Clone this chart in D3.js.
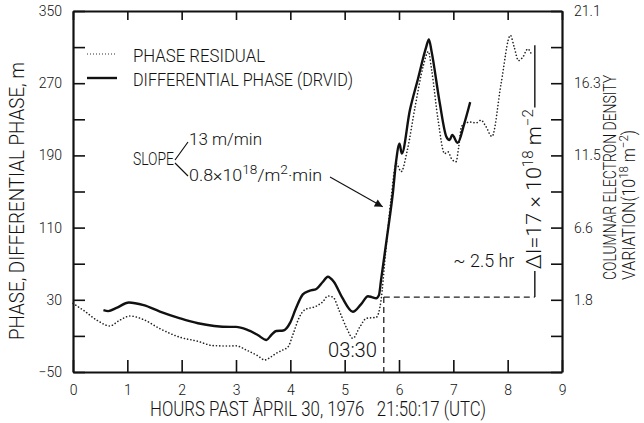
<!DOCTYPE html>
<html>
<head>
<meta charset="utf-8">
<script src="https://cdn.jsdelivr.net/npm/d3@7"></script>
<style>
  body { margin: 0; background: #fff; }
  svg text { font-family: Roboto, "DejaVu Sans Condensed", sans-serif; font-weight: 300; fill: #111; }
</style>
</head>
<body>
<svg id="chart" width="644" height="423"></svg>
<script>
// hours past 21:50:17 UTC, phase in m
const drvidHours = [0.56, 0.65, 0.8, 1.03, 1.3, 1.6, 1.97, 2.3, 2.6, 2.9, 3.0, 3.2, 3.4, 3.56, 3.65, 3.74, 3.87, 4.0, 4.1, 4.23, 4.35, 4.48, 4.6, 4.69, 4.8, 4.95, 5.15, 5.3, 5.43, 5.5, 5.58, 5.63, 5.67, 5.78, 5.89, 5.95, 6.01, 6.05, 6.2, 6.35, 6.5, 6.55, 6.6, 6.75, 6.87, 6.93, 6.98, 7.08, 7.2, 7.31];
const drvidPhase = [18.5, 17.5, 21, 27, 24, 17, 9.5, 4, 1, 0, 0, -3, -9, -14.5, -9, -4.6, -4, 5, 20, 36, 40, 42, 50, 55.6, 50, 33, 16.8, 25, 34, 33, 31.7, 35, 52, 100, 150, 185, 203, 192, 240, 275, 310, 318.6, 305, 248, 211, 207, 212.6, 204, 225, 249];

const residualHours = [0, 0.2, 0.45, 0.68, 0.85, 1.05, 1.3, 1.6, 1.97, 2.3, 2.58, 2.89, 3.0, 3.2, 3.4, 3.53, 3.65, 3.74, 3.85, 3.96, 4.05, 4.17, 4.26, 4.48, 4.6, 4.69, 4.79, 4.9, 5.05, 5.15, 5.28, 5.4, 5.58, 5.67, 5.75, 5.85, 5.95, 6.04, 6.15, 6.3, 6.45, 6.54, 6.6, 6.72, 6.84, 6.9, 6.97, 7.05, 7.1, 7.15, 7.24, 7.3, 7.42, 7.51, 7.6, 7.71, 7.88, 8.05, 8.12, 8.2, 8.28, 8.37, 8.43];
const residualPhase = [26, 18, 7, 1, 7, 12, 8, -2, -11.5, -16, -20.8, -21.2, -21, -26, -32, -36.7, -33, -29.3, -26, -22, -8, 11.3, 18.7, 23, 28, 34.2, 32.7, 18, -3, -12.7, 0, 9.5, 10.6, 29.8, 80, 140, 181, 172, 195, 245, 290, 305, 285, 229, 192, 194, 186, 183, 200, 222, 226, 227, 226, 229, 222, 211, 270, 323, 310, 295, 299, 308, 303];

const hourTicks = [0, 1, 2, 3, 4, 5, 6, 7, 8, 9];
const phaseTicks = [-50, -10, 30, 70, 110, 150, 190, 230, 270, 310, 350];
const phaseLabels = [-50, 30, 110, 190, 270, 350];
const densityLabels = [1.8, 6.6, 11.5, 16.3, 21.1];

// onset of the storm and its rise
const onsetHour = 5.72, onsetPhase = 33;
const deltaHour = 8.5, deltaTop = 312, gapLow = 62, gapHigh = 243;

const svg = d3.select("#chart");
const margin = {left: 73, right: 82, top: 11, bottom: 51};
const width = 644, height = 423;

const x = d3.scaleLinear().domain([0, 9]).range([margin.left, width - margin.right]);
const y = d3.scaleLinear().domain([-50, 350]).range([height - margin.bottom, margin.top]);
// right axis: 30 m -> 1.8, 350 m -> 21.1
const yR = d3.scaleLinear().domain([1.8 - 80 * 19.3 / 320, 21.1]).range(y.range());

/** Axes
------------------------------------------------------------*/

const fmtPhase = d => phaseLabels.includes(d) ? (d < 0 ? "\u2212" + Math.abs(d) : d) : "";

svg.append("g")
  .attr("transform", `translate(${margin.left},0)`)
  .call(d3.axisLeft(y).tickValues(phaseTicks).tickFormat(fmtPhase).tickSize(-12).tickSizeOuter(0).tickPadding(11))
  .call(g => g.selectAll("text").attr("font-size", 14));

svg.append("g")
  .attr("transform", `translate(${width - margin.right},0)`)
  .call(d3.axisRight(y).tickValues(phaseTicks).tickFormat("").tickSize(-11).tickSizeOuter(0));

svg.append("g")
  .attr("transform", `translate(${width - margin.right},0)`)
  .call(d3.axisRight(yR).tickValues(densityLabels).tickFormat(d3.format(".1f")).tickSize(0).tickPadding(12))
  .call(g => g.select(".domain").remove())
  .call(g => g.selectAll("text").attr("font-size", 14));

svg.append("g")
  .attr("transform", `translate(0,${height - margin.bottom})`)
  .call(d3.axisBottom(x).tickValues(hourTicks).tickFormat(d3.format("d")).tickSize(-12).tickSizeOuter(0).tickPadding(13))
  .call(g => g.selectAll("text").attr("font-size", 14));

svg.append("g")
  .attr("transform", `translate(0,${margin.top})`)
  .call(d3.axisTop(x).tickValues(hourTicks).tickFormat("").tickSize(-9).tickSizeOuter(0));

svg.selectAll(".domain").attr("stroke", "#111").attr("stroke-width", 2.2);
svg.selectAll(".tick line").attr("stroke", "#111").attr("stroke-width", 1.6);

/** Curves
------------------------------------------------------------*/

const line = d3.line()
  .x(d => x(d[0]))
  .y(d => y(d[1]))
  .curve(d3.curveMonotoneX);

svg.append("path")
  .datum(d3.zip(residualHours, residualPhase))
  .attr("d", line)
  .attr("fill", "none")
  .attr("stroke", "#222")
  .attr("stroke-width", 1.6)
  .attr("stroke-linecap", "round")
  .attr("stroke-dasharray", "0.1,3.2");

svg.append("path")
  .datum(d3.zip(drvidHours, drvidPhase))
  .attr("d", line)
  .attr("fill", "none")
  .attr("stroke", "#111")
  .attr("stroke-width", 2.4);

/** Annotations
------------------------------------------------------------*/

const dash = svg.append("g").attr("stroke", "#222").attr("stroke-width", 1.3).attr("stroke-dasharray", "6,4");
dash.append("line")
  .attr("x1", x(onsetHour)).attr("x2", x(deltaHour))
  .attr("y1", y(onsetPhase)).attr("y2", y(onsetPhase));
dash.append("line")
  .attr("x1", x(onsetHour)).attr("x2", x(onsetHour))
  .attr("y1", y(onsetPhase)).attr("y2", y(-50));

const solid = svg.append("g").attr("stroke", "#111").attr("stroke-width", 1.4);
solid.append("line")
  .attr("x1", x(deltaHour)).attr("x2", x(deltaHour))
  .attr("y1", y(onsetPhase)).attr("y2", y(gapLow));
solid.append("line")
  .attr("x1", x(deltaHour)).attr("x2", x(deltaHour))
  .attr("y1", y(gapHigh)).attr("y2", y(deltaTop));

svg.append("text")
  .attr("transform", `translate(${x(deltaHour) + 6},${y((gapLow + gapHigh) / 2)}) rotate(-90)`)
  .attr("text-anchor", "middle")
  .attr("font-size", 20)
  .attr("textLength", 160).attr("lengthAdjust", "spacingAndGlyphs")
  .call(t => {
    t.append("tspan").text("\u0394I=17 \u00d7 10");
    t.append("tspan").attr("font-size", 14).attr("dy", -8).text("18");
    t.append("tspan").attr("dy", 8).text(" m");
    t.append("tspan").attr("font-size", 14).attr("dy", -8).text("\u22122");
  });

svg.append("text")
  .attr("x", x(7.0)).attr("y", y(66))
  .attr("font-size", 19)
  .attr("textLength", 61).attr("lengthAdjust", "spacingAndGlyphs")
  .text("~ 2.5 hr");

svg.append("text")
  .attr("x", 328).attr("y", 357)
  .attr("font-size", 20)
  .attr("textLength", 49).attr("lengthAdjust", "spacingAndGlyphs")
  .text("03:30");

// legend
const legend = svg.append("g");
legend.append("line")
  .attr("x1", 87).attr("x2", 117).attr("y1", 54).attr("y2", 54)
  .attr("stroke", "#333").attr("stroke-width", 1.2).attr("stroke-dasharray", "1,2");
legend.append("line")
  .attr("x1", 87).attr("x2", 117).attr("y1", 78).attr("y2", 78)
  .attr("stroke", "#111").attr("stroke-width", 2.4);
legend.append("text")
  .attr("x", 133).attr("y", 62).attr("font-size", 19)
  .attr("textLength", 132).attr("lengthAdjust", "spacingAndGlyphs")
  .text("PHASE RESIDUAL");
legend.append("text")
  .attr("x", 133).attr("y", 86).attr("font-size", 19)
  .attr("textLength", 220).attr("lengthAdjust", "spacingAndGlyphs")
  .text("DIFFERENTIAL PHASE (DRVID)");

// slope note
const slope = svg.append("g");
slope.append("text")
  .attr("x", 133).attr("y", 165).attr("font-size", 19)
  .attr("textLength", 41).attr("lengthAdjust", "spacingAndGlyphs")
  .text("SLOPE");
slope.append("path")
  .attr("d", "M188,142 L175,160 M175,163 L188,176")
  .attr("fill", "none").attr("stroke", "#111").attr("stroke-width", 1.2);
slope.append("text")
  .attr("x", 189).attr("y", 145).attr("font-size", 17)
  .attr("textLength", 73).attr("lengthAdjust", "spacingAndGlyphs")
  .text("13 m/min");
slope.append("text")
  .attr("x", 189).attr("y", 181).attr("font-size", 17)
  .attr("textLength", 133).attr("lengthAdjust", "spacingAndGlyphs")
  .call(t => {
    t.append("tspan").text("0.8\u00d710");
    t.append("tspan").attr("font-size", 13).attr("dy", -7).text("18");
    t.append("tspan").attr("dy", 7).text("/m");
    t.append("tspan").attr("font-size", 13).attr("dy", -7).text("2");
    t.append("tspan").attr("dy", 7).text("\u00b7min");
  });

svg.append("defs").append("marker")
  .attr("id", "arrow")
  .attr("viewBox", "0 0 10 10")
  .attr("refX", 10).attr("refY", 5)
  .attr("markerWidth", 10).attr("markerHeight", 8)
  .attr("markerUnits", "userSpaceOnUse")
  .attr("orient", "auto")
  .append("path").attr("d", "M0,0 L10,5 L0,10 Z").attr("fill", "#111");

svg.append("line")
  .attr("x1", 330).attr("y1", 177)
  .attr("x2", x(5.7)).attr("y2", y(133))
  .attr("stroke", "#111").attr("stroke-width", 1.1)
  .attr("marker-end", "url(#arrow)");

/** Axis titles
------------------------------------------------------------*/

svg.append("text")
  .attr("x", 150).attr("y", 416).attr("font-size", 20)
  .attr("textLength", 336).attr("lengthAdjust", "spacingAndGlyphs")
  .text("HOURS PAST \u00c5PRIL 30, 1976 \u00a0 21:50:17 (UTC)");

svg.append("text")
  .attr("transform", "translate(24,201) rotate(-90)")
  .attr("text-anchor", "middle").attr("font-size", 20)
  .attr("textLength", 278).attr("lengthAdjust", "spacingAndGlyphs")
  .text("PHASE, DIFFERENTIAL PHASE, m");

svg.append("text")
  .attr("transform", "translate(616,280) rotate(-90)")
  .attr("font-size", 18)
  .attr("textLength", 205).attr("lengthAdjust", "spacingAndGlyphs")
  .text("COLUMNAR ELECTRON DENSITY");

svg.append("text")
  .attr("transform", "translate(635,280) rotate(-90)")
  .attr("font-size", 18)
  .attr("textLength", 150).attr("lengthAdjust", "spacingAndGlyphs")
  .call(t => {
    t.append("tspan").text("VARIATION(10");
    t.append("tspan").attr("font-size", 13).attr("dy", -7).text("18");
    t.append("tspan").attr("dy", 7).text(" m");
    t.append("tspan").attr("font-size", 13).attr("dy", -7).text("\u22122");
    t.append("tspan").attr("dy", 7).text(")");
  });
</script>
</body>
</html>
